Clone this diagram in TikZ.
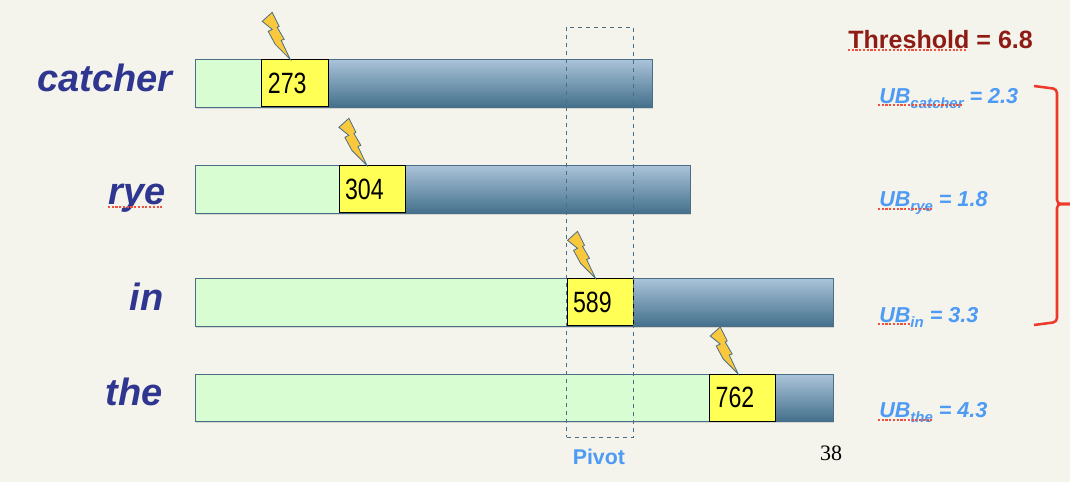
\documentclass[tikz,border=0pt]{standalone}
\usepackage{fontspec}
\setmainfont{Liberation Sans}
\newfontfamily\numfont[FakeStretch=0.79]{Liberation Sans}
\newfontfamily\pagefont{Liberation Serif}
\usetikzlibrary{positioning,shadows}

\definecolor{slidebg}{HTML}{F4F3EC}
\definecolor{barline}{HTML}{4A6E86}
\definecolor{bartop}{HTML}{ABC4DA}
\definecolor{barbottom}{HTML}{44708C}
\definecolor{postedgreen}{HTML}{D8FDD2}
\definecolor{cursoryellow}{HTML}{FFFF55}
\definecolor{boltfill}{HTML}{FAC83C}
\definecolor{termblue}{HTML}{2E3690}
\definecolor{ubblue}{HTML}{4E9BF5}
\definecolor{threshred}{HTML}{8E1C15}
\definecolor{bracered}{HTML}{EE3A2A}
\definecolor{spellred}{HTML}{F0503C}

\newcommand{\ubsub}[1]{\raisebox{-4pt}{\fontsize{11.2}{11.2}\selectfont #1}}

\tikzset{
  softshadow/.style={drop shadow={shadow xshift=0.6pt,shadow yshift=-1.2pt,opacity=.25}},
  barbox/.style={draw=barline,line width=.7pt,top color=bartop,bottom color=barbottom,outer sep=0pt,
    minimum height=36pt,inner sep=0pt,anchor=north west,softshadow},
  postedbox/.style={draw=barline,line width=.7pt,fill=postedgreen,outer sep=0pt,
    minimum height=36pt,inner sep=0pt,anchor=north west},
  cursorbox/.style={draw=black,line width=.7pt,fill=cursoryellow,outer sep=0pt,
    minimum height=35.5pt,inner xsep=4.5pt,inner ysep=0pt,text width=40.6pt,align=left,
    font=\numfont\fontsize{22}{22}\selectfont},
  termlabel/.style={text=termblue,anchor=base east,inner sep=0pt,
    font=\bfseries\itshape\fontsize{28.5}{30}\selectfont},
  ublabel/.style={text=ubblue,anchor=base west,inner sep=0pt,
    font=\bfseries\itshape\fontsize{16.2}{17}\selectfont},
  spellmark/.style={draw=spellred,line width=1.1pt,dash pattern=on 1.6pt off 1.2pt},
  bracemark/.style={draw=bracered,line width=1.9pt,rounded corners=3pt},
  pics/bolt/.style={code={
    \filldraw[fill=boltfill,draw=barline,line width=.6pt]
      (-18,-47) -- (-11,-33) -- (-13,-32) -- (-6,-20) -- (-9,-19) -- (0,0)
      -- (-15,-15) -- (-22,-28) -- (-18,-30) -- (-28,-38) -- cycle;
  }},
}

\begin{document}
\begin{tikzpicture}[x=.75pt,y=-.75pt]
  \fill[slidebg] (0,0) rectangle (1070,482);
  \useasboundingbox (0,0) rectangle (1070,482);

  % bars
  \node [barbox,minimum width=343pt] (catcherbar) at (195,59) {};
  \node [postedbox,minimum width=50.2pt] (catchergreen) at (195,59) {};
  \node [cursorbox,right=0pt of catchergreen] (catchernum) {273};

  \node [barbox,minimum width=371.5pt] (ryebar) at (195,165) {};
  \node [postedbox,minimum width=108pt] (ryegreen) at (195,165) {};
  \node [cursorbox,right=0pt of ryegreen] (ryenum) {304};

  \node [barbox,minimum width=479pt] (inbar) at (195,278) {};
  \node [postedbox,minimum width=279pt] (ingreen) at (195,278) {};
  \node [cursorbox,right=0pt of ingreen] (innum) {589};

  \node [barbox,minimum width=479pt,minimum height=35.5pt] (thebar) at (195,374) {};
  \node [postedbox,minimum width=386pt,minimum height=35.5pt] (thegreen) at (195,374) {};
  \node [cursorbox,right=0pt of thegreen] (thenum) {762};

  % bolts
  \pic at ([xshift=-3.6pt]catchernum.north) {bolt};
  \pic at ([xshift=-3.9pt]ryenum.north) {bolt};
  \pic at ([xshift=-3.4pt]innum.north) {bolt};
  \pic at ([xshift=-3.4pt]thenum.north) {bolt};

  % terms
  \node [termlabel] (catcherterm) at (173,91) {catcher};
  \node [termlabel] (ryeterm) at (166,204) {rye};
  \node [termlabel] (interm) at (164,310) {in};
  \node [termlabel] (theterm) at (163,405) {the};
  \draw [spellmark] (108,207) -- (162,207);

  % pivot
  \node [draw=barline,dashed,line width=.6pt,minimum width=50.2pt,minimum height=307.5pt,
    inner sep=0pt,outer sep=0pt,anchor=north west] (pivotbox) at (566.5,27) {};
  \node [text=ubblue,inner sep=0pt,font=\bfseries\fontsize{16}{17}\selectfont,
    below=9pt of pivotbox,xshift=-.8pt] (pivotlabel) {Pivot};
  \node [inner sep=0pt,anchor=base,font=\pagefont\fontsize{16.5}{18}\selectfont] (pagenum) at (831,460) {38};

  % threshold and bounds
  \node [text=threshred,anchor=base west,inner sep=0pt,
    font=\bfseries\fontsize{18.8}{20}\selectfont] (threshold) at (848,48) {Threshold = 6.8};
  \draw [spellmark] (848,50) -- (966,50);
  \node [ublabel] (ubcatcher) at (879,103) {UB\ubsub{catcher} = 2.3};
  \draw [spellmark] (878,105) -- (963,105);
  \node [ublabel] (ubrye) at (879,206) {UB\ubsub{rye} = 1.8};
  \draw [spellmark] (878,209) -- (933,209);
  \node [ublabel] (ubin) at (879,322) {UB\ubsub{in} = 3.3};
  \draw [spellmark] (878,324) -- (911,324);
  \node [ublabel] (ubthe) at (879,417) {UB\ubsub{the} = 4.3};
  \draw [spellmark] (878,420) -- (933,420);

  % brace
  \draw [bracemark] (1034,86) -- (1057,89) -- (1057,204) -- (1070,204);
  \draw [bracemark] (1070,204) -- (1057,204) -- (1057,322) -- (1034,325);
\end{tikzpicture}
\end{document}
